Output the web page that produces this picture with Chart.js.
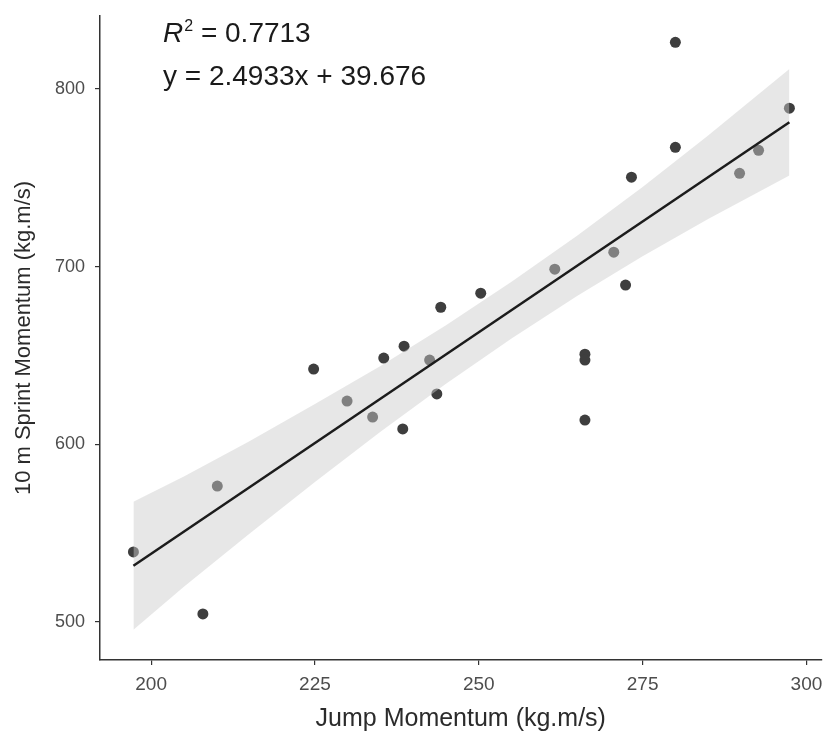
<!DOCTYPE html>
<html>
<head>
<meta charset="utf-8">
<script src="https://cdn.jsdelivr.net/npm/chart.js@4/dist/chart.umd.min.js"></script>
<style>
  html, body { margin: 0; padding: 0; background: #ffffff; }
  #wrap { width: 827px; height: 742px; position: relative; }
</style>
</head>
<body>
<div id="wrap"><canvas id="c" width="827" height="742"></canvas></div>
<script>
// ---- data ----
const jumpMomentum = [197.3, 207.9, 210.1, 224.8, 229.9, 233.8, 235.5, 238.6, 238.4, 242.5, 243.6, 244.2, 250.3, 261.6, 266.2, 266.2, 266.2, 270.6, 272.4, 273.3, 280.0, 280.0, 289.8, 292.7, 297.4];
const sprintMomentum = [539.4, 504.5, 576.5, 642.3, 624.3, 615.3, 648.5, 655.2, 608.6, 647.4, 628.3, 677.1, 685.0, 698.5, 650.7, 647.4, 613.6, 708.1, 689.6, 750.3, 767.1, 826.2, 752.5, 765.4, 789.1];

const fitX = [197.3, 297.4];
const fitY = [531.6, 781.2];

const bandX = [197.3, 205, 215, 225, 235, 245, 255, 265, 275, 285, 297.4];
const bandUpper = [567.6, 581.8, 601.7, 622.7, 644.1, 667.0, 691.5, 717.4, 744.8, 773.8, 811.2];
const bandLower = [495.6, 519.8, 549.7, 578.7, 607.1, 634.0, 659.5, 683.4, 705.8, 726.8, 751.2];

const xTicks = [200, 225, 250, 275, 300];
const yTicks = [500, 600, 700, 800];

const xTitle = 'Jump Momentum (kg.m/s)';
const yTitle = '10 m Sprint Momentum (kg.m/s)';
const r2Text = '0.7713';
const eqText = 'y = 2.4933x + 39.676';

// ---- build datasets ----
const pts = (xs, ys) => xs.map((x, i) => ({ x: x, y: ys[i] }));

const FONT = "'Liberation Sans', Arial, Helvetica, sans-serif";

const annotationPlugin = {
  id: 'annot',
  afterDraw(chart) {
    const ctx = chart.ctx;
    const x0 = 163;
    ctx.save();
    ctx.fillStyle = '#1a1a1a';
    ctx.textBaseline = 'alphabetic';
    ctx.textAlign = 'left';
    // R^2 line
    ctx.font = 'italic 28px ' + FONT;
    ctx.fillText('R', x0, 42);
    let w = ctx.measureText('R').width;
    ctx.font = '16px ' + FONT;
    ctx.fillText('2', x0 + w + 1, 31);
    w += ctx.measureText('2').width + 1;
    ctx.font = '28px ' + FONT;
    ctx.fillText(' = ' + r2Text, x0 + w, 42);
    // equation line
    ctx.fillText(eqText, x0, 85);
    ctx.restore();
  }
};

new Chart(document.getElementById('c'), {
  type: 'scatter',
  data: {
    datasets: [
      {
        label: 'fit',
        data: pts(fitX, fitY),
        showLine: true,
        borderColor: '#1c1c1c',
        borderWidth: 2.5,
        pointRadius: 0,
        fill: false
      },
      {
        label: 'upper',
        data: pts(bandX, bandUpper),
        showLine: true,
        borderWidth: 0,
        borderColor: 'rgba(0,0,0,0)',
        pointRadius: 0,
        backgroundColor: 'rgba(205,205,205,0.47)',
        fill: '+1'
      },
      {
        label: 'lower',
        data: pts(bandX, bandLower),
        showLine: true,
        borderWidth: 0,
        borderColor: 'rgba(0,0,0,0)',
        pointRadius: 0,
        fill: false
      },
      {
        label: 'obs',
        data: pts(jumpMomentum, sprintMomentum),
        showLine: false,
        pointRadius: 5.5,
        pointBackgroundColor: '#3e3e3e',
        pointBorderWidth: 0,
        pointBorderColor: '#3e3e3e'
      }
    ]
  },
  options: {
    responsive: false,
    animation: false,
    layout: { padding: { left: 0, top: 16, right: 5, bottom: 0 } },
    plugins: { legend: { display: false }, tooltip: { enabled: false } },
    scales: {
      x: {
        type: 'linear',
        min: 192.2,
        max: 302.3,
        afterBuildTicks: s => { s.ticks = xTicks.map(v => ({ value: v })); },
        afterFit: s => { s.height = 82; s.paddingLeft = 0; s.paddingRight = 0; },
        grid: { display: true, drawOnChartArea: false, drawTicks: true, tickLength: 5, color: '#333333', lineWidth: 1.2 },
        border: { display: true, color: '#333333', width: 1.5 },
        ticks: { color: '#4d4d4d', font: { family: FONT, size: 19 }, padding: 8, maxRotation: 0, autoSkip: false },
        title: { display: true, text: xTitle, color: '#2b2b2b', font: { family: FONT, size: 25 }, padding: { top: 0, bottom: 8 } }
      },
      y: {
        type: 'linear',
        min: 478.6,
        max: 841,
        afterBuildTicks: s => { s.ticks = yTicks.map(v => ({ value: v })); },
        afterFit: s => { s.width = 100; s.paddingTop = 0; s.paddingBottom = 0; },
        grid: { display: true, drawOnChartArea: false, drawTicks: true, tickLength: 5, color: '#333333', lineWidth: 1.2 },
        border: { display: true, color: '#333333', width: 1.5 },
        ticks: { color: '#4d4d4d', font: { family: FONT, size: 18 }, padding: 10, autoSkip: false },
        title: { display: true, text: yTitle, color: '#2b2b2b', font: { family: FONT, size: 22 }, padding: { top: 11, bottom: 0 } }
      }
    }
  },
  plugins: [annotationPlugin]
});
</script>
</body>
</html>
